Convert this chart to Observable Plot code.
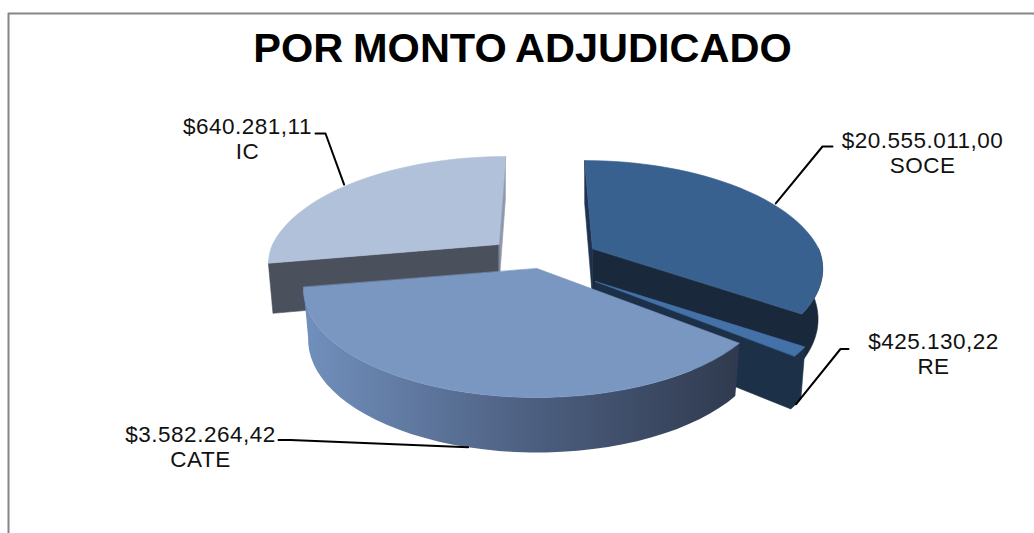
<!DOCTYPE html>
<html>
<head>
<meta charset="utf-8">
<style>
html,body{margin:0;padding:0;background:#fff;overflow:hidden}
svg{display:block}
.pie-title text{word-spacing:-1.75px}
.pie-labels text{letter-spacing:.5px}
</style>
<script src="https://cdn.jsdelivr.net/npm/d3@7"></script>
<script src="https://cdn.jsdelivr.net/npm/@observablehq/plot@0.6"></script>
</head>
<body>
<div id="chart"></div>
<script>
// Data
const titleText = "POR MONTO ADJUDICADO";
const names = ["SOCE", "RE", "CATE", "IC"];
const amounts = ["$20.555.011,00", "$425.130,22", "$3.582.264,42", "$640.281,11"];
// the drawn slices' angular shares (degrees), as seen in the picture, clockwise from the top
const sweep = [124, 5, 131, 100];
const topColors = ["#38618f", "#4472a8", "#7a97c2", "#b2c1da"];

// Projection of the tilted disc
const W = 1034, H = 533, startAngle = 270, centerX = 542;
const F = 226, Q = 104.6, P = 0.189, wallH = 49, wallV = 6, wallShrink = 0.98;
// Exploded position of each slice's apex, and its perspective enlargement
const apexX = [592, 595, 536.5, 498];
const apexY = [248, 281, 268, 244];
const nearScale = [1, 1, 1.015, 1];

const rad = d => d * Math.PI / 180;
function rim(i, deg, bottom, flat) {
  const c = Math.cos(rad(deg)), s = Math.sin(rad(deg)), d = 1 - P * s;
  // the back of the exploded disc converges towards the centre
  const converge = s < 0 && !flat ? (apexX[i] - centerX) * (1 / d - 1) : 0;
  const dx = nearScale[i] * F * c / d + converge, dy = Q * s / d;
  return bottom
    ? {x: apexX[i] + wallShrink * dx, y: apexY[i] + dy + wallH + wallV * s}
    : {x: apexX[i] + dx, y: apexY[i] + dy};
}
const arc = (i, a, b, bottom) => d3.range(0, 41).map(k => rim(i, a + (b - a) * k / 40, bottom));
const apex = (i, bottom) => ({x: apexX[i], y: apexY[i] + (bottom ? wallH : 0)});

let acc = startAngle;
const bounds = sweep.map(s => { const r = [acc, acc + s]; acc += s; return r; });
const [soce, re, cate, ic] = [0, 1, 2, 3];

const topFace = i => [apex(i), ...arc(i, bounds[i][0], bounds[i][1])];
const cut = (i, deg) => [apex(i), rim(i, deg), rim(i, deg, true), apex(i, true)];
const outer = (i, a, b) => [...arc(i, a, b), ...arc(i, b, a, true)];
// cut face at angle b joined to the outer wall running back to angle a, as one shape
const frontWall = (i, a, b) => [apex(i), ...arc(i, b, a), ...arc(i, a, b, true), apex(i, true)];

const poly = (pts, fill) => Plot.line(pts, {x: "x", y: "y", fill, stroke: fill === "url(#cateWall)" ? null : fill,
  strokeWidth: 0.6, curve: "linear-closed"});

const gradient = () => {
  const ns = "http://www.w3.org/2000/svg";
  const defs = document.createElementNS(ns, "defs");
  defs.innerHTML = `<linearGradient id="cateWall" x1="0" x2="1" y1="0" y2="0">
    <stop offset="0" stop-color="#7190bd"/>
    <stop offset="0.5" stop-color="#4e6183"/>
    <stop offset="1" stop-color="#2f3a4e"/>
  </linearGradient>`;
  return defs;
};

const frame = [{x: 8, y: H}, {x: 8, y: 13}, {x: W, y: 13}];

// Leader lines run from the middle of each slice's rim to its label
const mid = i => (bounds[i][0] + bounds[i][1]) / 2;
const leaders = [
  [rim(soce, mid(soce), false, true), {x: 822, y: 146}, {x: 832, y: 146}],
  [rim(re, mid(re), true), {x: 840, y: 348.5}, {x: 848, y: 348.5}],
  [rim(cate, mid(cate), true), {x: 290, y: 439.5}, {x: 278, y: 439.5}],
  [rim(ic, mid(ic), false, true), {x: 325, y: 133}, {x: 315, y: 133}]
];
const labelX = [922, 933, 200, 247];
const labelY = [152, 353, 446, 138];
const labels = names.map((n, i) => ({x: labelX[i], y: labelY[i], text: amounts[i] + "\n" + n}));

const chart = Plot.plot({
  width: W, height: H, margin: 0,
  x: {domain: [0, W], range: [0, W], axis: null},
  y: {domain: [0, H], range: [0, H], axis: null},
  marks: [
    gradient,
    Plot.line(frame, {x: "x", y: "y", stroke: "#868686", strokeWidth: 2}),
    // IC
    poly(cut(ic, bounds[ic][1]), "#8e99ae"),
    poly(cut(ic, bounds[ic][0]), "#4a505c"),
    poly(topFace(ic), topColors[ic]),
    // SOCE
    poly(cut(soce, bounds[soce][0]), "#1f3350"),
    poly(frontWall(soce, 360, bounds[soce][1]), "#1a283b"),
    poly(topFace(soce), topColors[soce]),
    // RE
    poly(frontWall(re, bounds[re][0], bounds[re][1]), "#1c3048"),
    poly(topFace(re), topColors[re]),
    // CATE
    poly(outer(cate, bounds[cate][0], bounds[cate][1]), "url(#cateWall)"),
    poly(topFace(cate), topColors[cate]),
    // leaders and labels
    ...leaders.map(l => Plot.line(l, {x: "x", y: "y", stroke: "#000", strokeWidth: 2})),
    Plot.text(labels, {x: "x", y: "y", text: "text", fontSize: 22.5, lineHeight: 1.12, fill: "#111",
      className: "pie-labels", fontFamily: "Liberation Sans, Arial, sans-serif", textAnchor: "middle"}),
    Plot.text([{x: 522, y: 48}], {x: "x", y: "y", text: () => titleText, fontSize: 41.5, fontWeight: "bold",
      className: "pie-title", fill: "#000", fontFamily: "Liberation Sans, Arial, sans-serif", textAnchor: "middle"})
  ]
});
document.getElementById("chart").append(chart);
</script>
</body>
</html>
